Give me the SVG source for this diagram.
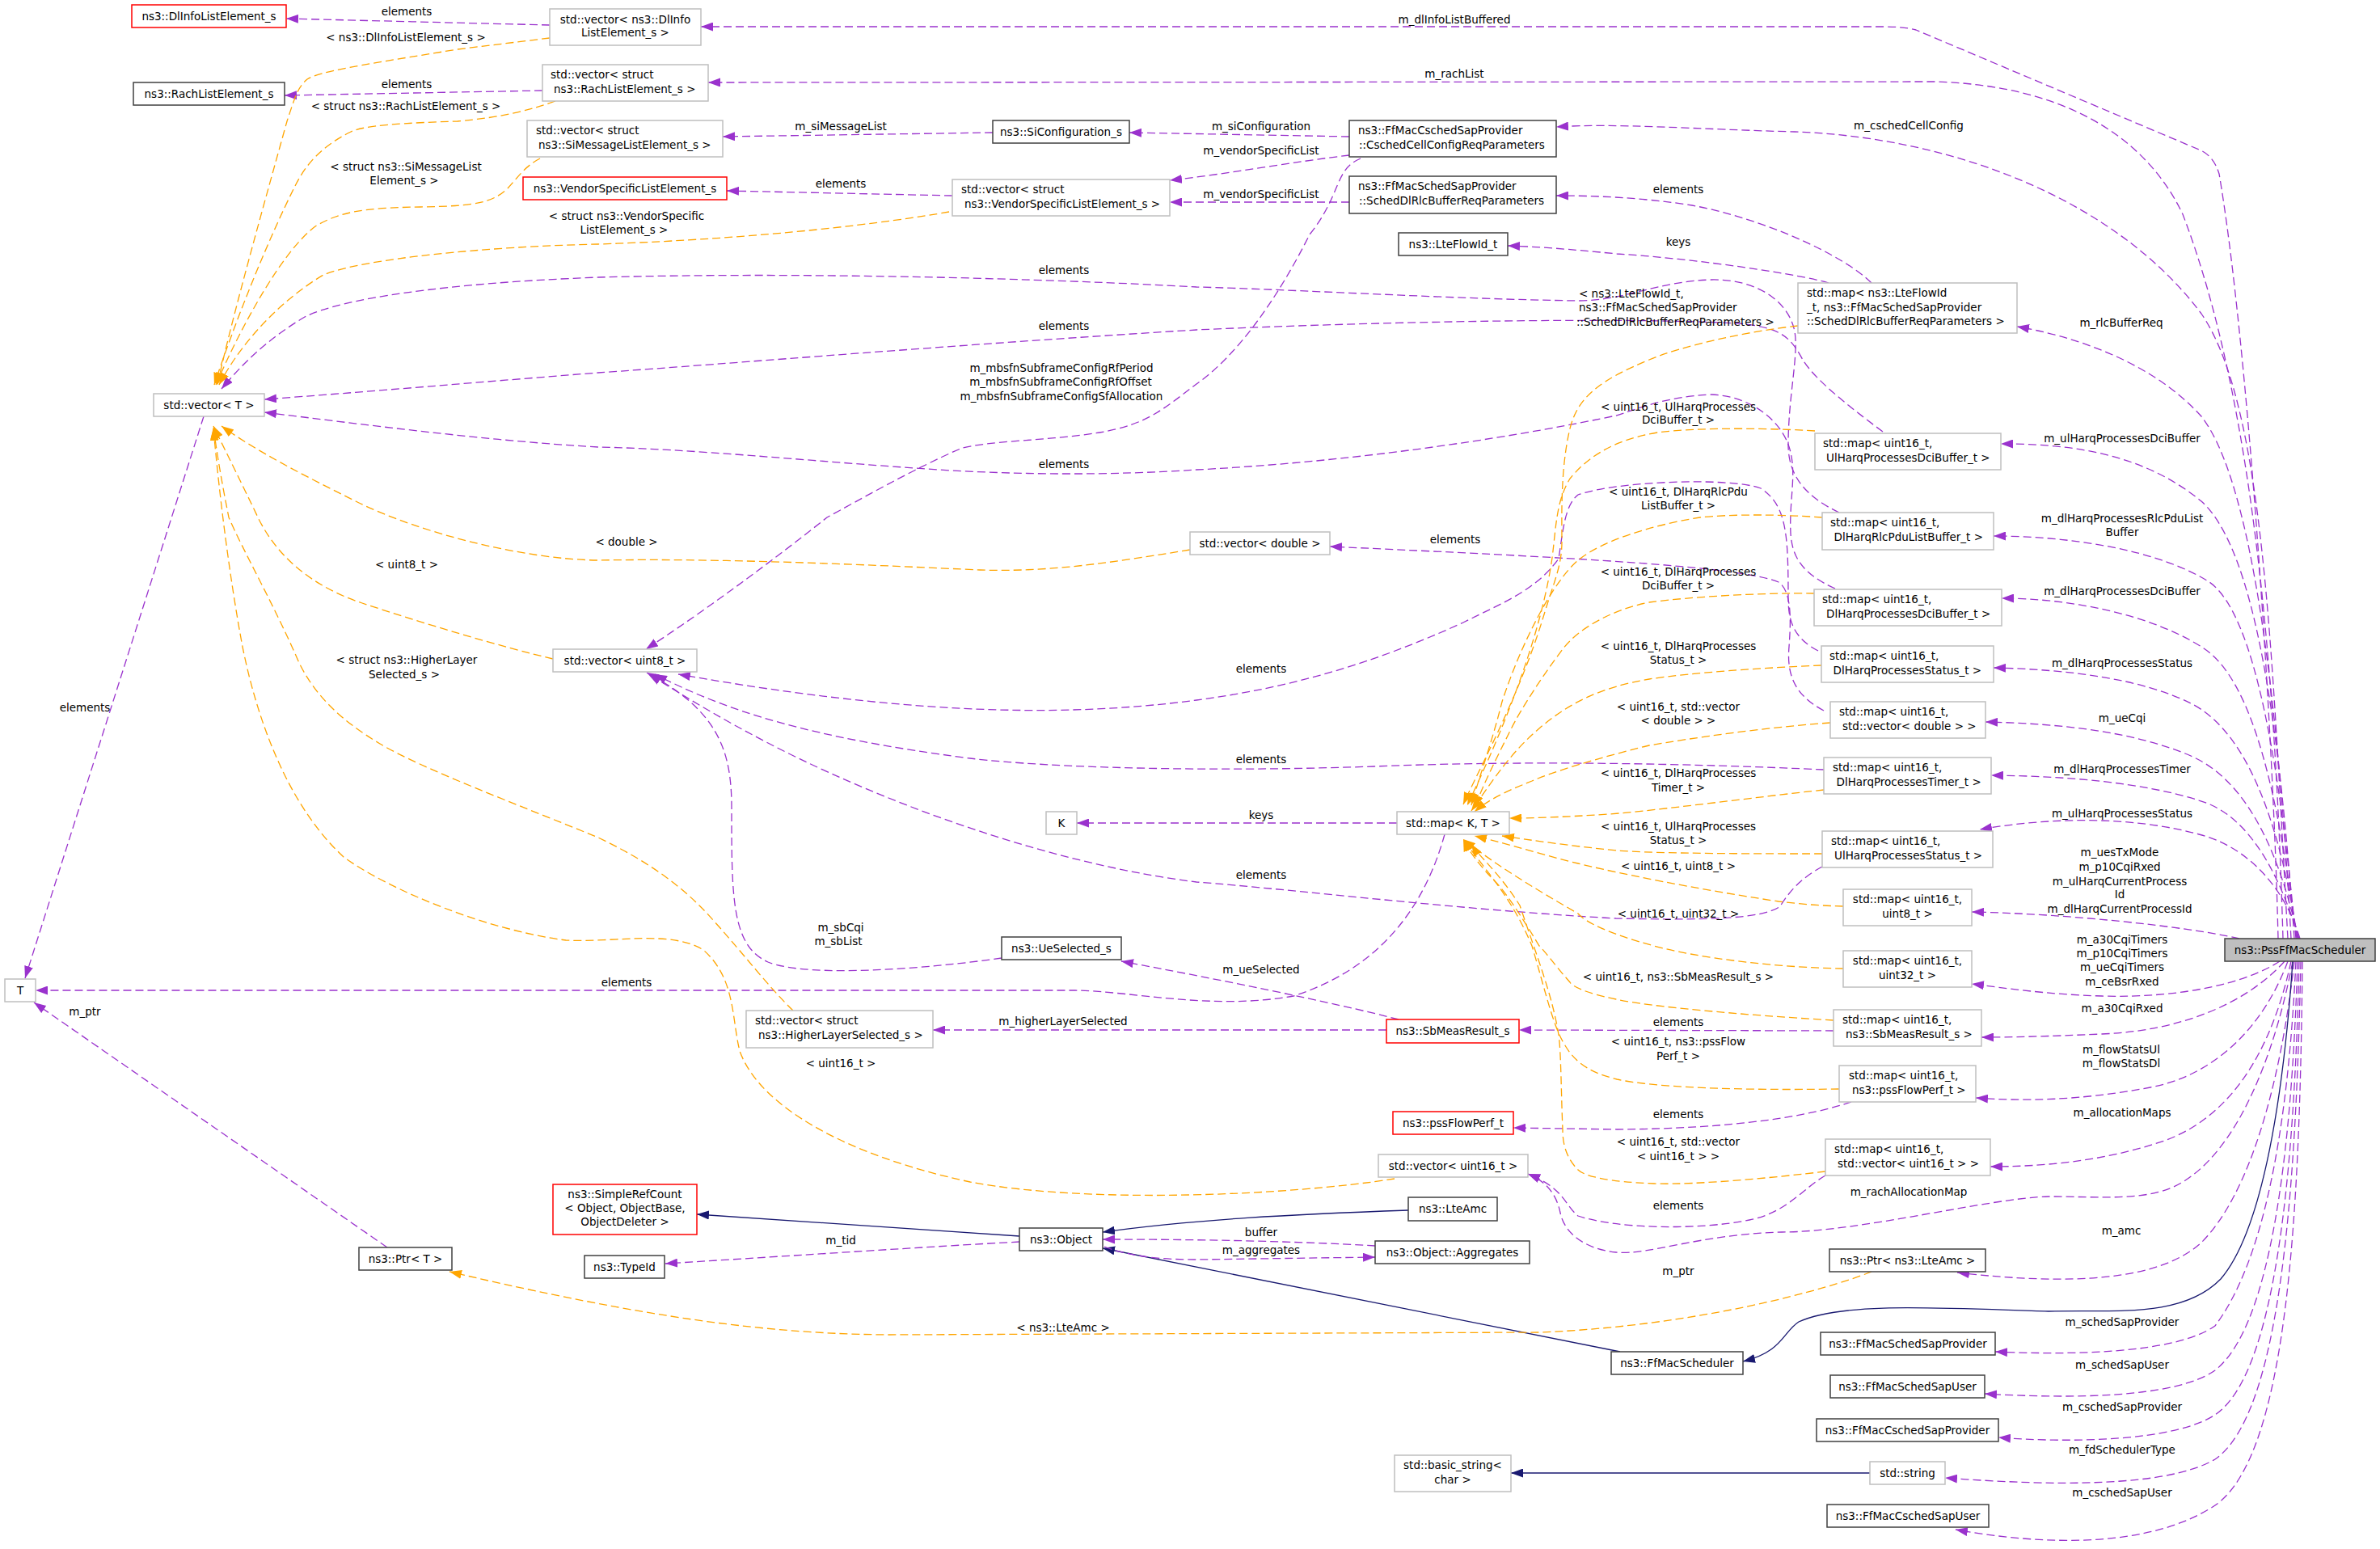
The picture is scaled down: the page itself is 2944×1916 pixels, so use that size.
<svg xmlns="http://www.w3.org/2000/svg" width="2944" height="1916" viewBox="0 0 2944 1916">
<defs>
<style>
text{font-family:'DejaVu Sans','Liberation Sans',sans-serif;font-size:13.5px;fill:#000}
.m{text-anchor:middle}
.nb rect{fill:#fff;stroke:#404040;stroke-width:1.5}
.ng rect{fill:#fff;stroke:#bfbfbf;stroke-width:1.5}
.nr rect{fill:#fff;stroke:#ff0000;stroke-width:1.5}
.np rect{fill:#bfbfbf;stroke:#404040;stroke-width:1.5}
.p{fill:none;stroke:#9a32cd;stroke-width:1.3;stroke-dasharray:10,5;marker-end:url(#ap)}
.o{fill:none;stroke:#ffa500;stroke-width:1.3;stroke-dasharray:10,5;marker-end:url(#ao)}
.s{fill:none;stroke:#191970;stroke-width:1.3;marker-end:url(#as)}
</style>
<marker id="ap" markerUnits="userSpaceOnUse" viewBox="0 0 15 11" markerWidth="15" markerHeight="11" refX="15" refY="5.5" orient="auto"><path d="M0,0 L15,5.5 L0,11 z" fill="#9a32cd"/></marker>
<marker id="ao" markerUnits="userSpaceOnUse" viewBox="0 0 15 11" markerWidth="15" markerHeight="11" refX="15" refY="5.5" orient="auto"><path d="M0,0 L15,5.5 L0,11 z" fill="#ffa500"/></marker>
<marker id="as" markerUnits="userSpaceOnUse" viewBox="0 0 15 11" markerWidth="15" markerHeight="11" refX="15" refY="5.5" orient="auto"><path d="M0,0 L15,5.5 L0,11 z" fill="#191970"/></marker>
</defs>
<rect width="2944" height="1916" fill="#fff"/>
<g id="connectors">
<path class="p" d="M2818,1161 C2812,900 2780,420 2745,215 Q2738,192 2720,185 L2370,37 Q2355,33 2330,33 L867,33"/>
<path class="p" d="M2824,1161 C2815,850 2790,500 2700,265 C2650,160 2540,105 2393,101 L876,102"/>
<path class="p" d="M2830,1161 C2810,800 2800,500 2723,388 C2620,250 2420,170 2220,163 C2100,160 2000,152 1925,157"/>
<path class="p" d="M2315,350 C2280,315 2180,270 2093,254 C2030,244 1970,242 1925,242"/>
<path class="p" d="M2262,350 C2230,340 2100,320 2000,314 C1940,308 1900,305 1865,304"/>
<path class="p" d="M2834,1161 C2820,900 2790,600 2723,515 C2660,445 2560,415 2495,404"/>
<path class="p" d="M2838,1161 C2820,900 2790,680 2723,620 C2650,560 2560,549 2475,549"/>
<path class="p" d="M2840,1161 C2820,950 2790,760 2733,720 C2670,680 2560,663 2466,663"/>
<path class="p" d="M2841,1161 C2820,1000 2790,840 2723,800 C2660,760 2560,740 2476,740"/>
<path class="p" d="M2842,1161 C2825,1050 2790,910 2710,870 C2650,840 2560,828 2466,826"/>
<path class="p" d="M2843,1161 C2825,1080 2790,970 2710,935 C2640,905 2550,895 2456,893"/>
<path class="p" d="M2844,1161 C2825,1100 2790,1010 2720,990 C2650,968 2560,960 2463,959"/>
<path class="p" d="M2845,1161 C2830,1110 2790,1050 2720,1032 C2640,1010 2540,1010 2449,1026"/>
<path class="p" d="M2770,1161 C2700,1145 2550,1130 2439,1128"/>
<path class="p" d="M2820,1189 C2780,1215 2700,1235 2600,1232 C2530,1230 2480,1222 2439,1217"/>
<path class="p" d="M2826,1189 C2780,1240 2700,1275 2600,1279 C2530,1282 2490,1283 2451,1283"/>
<path class="p" d="M2830,1189 C2800,1270 2740,1330 2660,1345 C2570,1362 2500,1362 2444,1358"/>
<path class="p" d="M2834,1189 C2810,1300 2760,1380 2680,1410 C2600,1438 2520,1443 2462,1443"/>
<path class="p" d="M2836,1189 C2815,1300 2770,1420 2700,1462 C2660,1487 2600,1480 2534,1480 C2460,1482 2300,1524 2204,1524 C2100,1527 2040,1553 1999,1549 C1960,1545 1935,1525 1930,1500 C1925,1475 1910,1460 1890,1452"/>
<path class="p" d="M2838,1189 C2820,1350 2780,1480 2723,1537 C2670,1585 2560,1590 2421,1574"/>
<path class="p" d="M2840,1189 C2830,1400 2800,1560 2740,1640 C2690,1675 2560,1676 2468,1672"/>
<path class="p" d="M2842,1189 C2835,1420 2810,1640 2740,1695 C2690,1730 2560,1730 2455,1724"/>
<path class="p" d="M2844,1189 C2838,1450 2815,1700 2740,1750 C2690,1783 2560,1785 2472,1778"/>
<path class="p" d="M2846,1189 C2840,1480 2820,1750 2740,1805 C2680,1840 2540,1838 2406,1828"/>
<path class="p" d="M2848,1189 C2845,1500 2830,1800 2740,1862 C2660,1915 2530,1912 2419,1892"/>
<path class="s" d="M2836,1189 C2825,1350 2800,1520 2747,1582 C2700,1630 2620,1620 2534,1622 C2400,1618 2280,1610 2225,1635 C2205,1648 2205,1672 2156,1684"/>
<path class="s" d="M2313,1822 L1869,1822"/>
<path class="s" d="M2004,1672 L1364,1544"/>
<path class="s" d="M1742,1497 C1600,1502 1480,1508 1364,1524"/>
<path class="s" d="M1261,1529 L862,1502"/>
<path class="p" d="M1261,1536 C1150,1542 1000,1552 823,1563"/>
<path class="p" d="M1701,1541 C1600,1535 1480,1533 1364,1533"/>
<path class="p" d="M1366,1542 C1400,1555 1440,1558 1480,1558 L1701,1555"/>
<path class="o" d="M2315,1573 C2260,1595 2100,1640 1905,1648 L1100,1651 C950,1650 800,1630 556,1573"/>
<path class="p" d="M479,1543 L42,1240"/>
<path class="p" d="M252,515 L31,1210"/>
<path class="p" d="M1787,1032 C1760,1130 1700,1200 1600,1232 C1500,1250 1400,1226 1330,1225 L44,1225"/>
<path class="p" d="M1728,1018 L1332,1018"/>
<path class="p" d="M1239,1185 C1150,1198 1000,1210 950,1190 C905,1170 905,1110 905,1000 C905,930 890,880 800,832"/>
<path class="p" d="M1730,1261 C1650,1240 1500,1210 1387,1189"/>
<path class="p" d="M1715,1274 L1154,1274"/>
<path class="p" d="M2268,1275 L1879,1274"/>
<path class="p" d="M2290,1363 C2240,1380 2150,1396 2000,1397 L1872,1395"/>
<path class="p" d="M2258,1454 C2230,1470 2210,1500 2164,1509 C2100,1522 2000,1520 1952,1504 C1935,1490 1935,1470 1890,1452"/>
<path class="p" d="M2256,879 C2220,860 2210,835 2213,800 C2216,760 2215,730 2200,720 C2150,700 1950,690 1645,676"/>
<path class="p" d="M2249,805 C2220,790 2212,770 2212,740 C2212,660 2210,625 2178,604 C2140,590 2000,595 1952,612 C1935,625 1933,660 1928,691 C1900,730 1860,745 1810,770 C1700,820 1600,850 1480,866 C1300,890 1100,880 839,834"/>
<path class="p" d="M2256,952 C2100,945 1900,940 1700,948 C1500,955 1300,950 1200,938 C1000,912 900,880 810,834"/>
<path class="p" d="M2254,1072 C2230,1085 2215,1100 2202,1121 C2180,1138 2100,1138 1999,1136 C1800,1125 1600,1100 1480,1091 C1350,1075 1200,1030 1070,975 C950,925 860,870 803,834"/>
<path class="p" d="M1683,196 C1650,210 1660,240 1620,290 C1580,370 1530,440 1480,475 C1440,505 1420,525 1360,535 C1300,545 1220,545 1188,555 C1130,580 1060,620 1023,640 C960,690 880,750 799,803"/>
<path class="p" d="M680,31 L354,23"/>
<path class="p" d="M671,112 L352,118"/>
<path class="p" d="M1228,164 L894,169"/>
<path class="p" d="M1669,169 L1397,164"/>
<path class="p" d="M1669,192 C1600,200 1520,215 1447,223"/>
<path class="p" d="M1669,250 L1447,250"/>
<path class="p" d="M1178,242 L899,236"/>
<path class="p" d="M2275,634 C2235,615 2212,590 2212,550 C2212,490 2225,440 2220,410 C2212,370 2170,345 2117,346 C2050,348 2010,372 1952,372 C1800,370 1600,358 1480,355 C1300,345 1000,336 740,343 C550,350 420,370 377,392 C330,420 300,450 274,481"/>
<path class="p" d="M2329,534 C2290,505 2245,470 2230,445 C2215,418 2205,405 2150,400 C2000,392 1700,398 1480,408 C1200,425 900,450 740,461 C600,472 450,485 327,494"/>
<path class="p" d="M2270,728 C2230,710 2217,690 2215,660 C2213,620 2222,590 2215,560 C2208,525 2170,490 2117,488 C2060,490 2020,508 1999,514 C1900,535 1700,570 1480,581 C1380,588 1250,588 1132,579 C1000,570 850,555 740,553 C600,545 450,525 327,510"/>
<path class="o" d="M680,47 L566,61 C450,80 395,88 380,98 C368,108 365,120 355,150 C330,240 285,400 269,476"/>
<path class="o" d="M687,125 C650,138 620,145 566,150 C500,152 450,155 434,163 C400,180 380,200 365,230 C330,300 290,400 265,476"/>
<path class="o" d="M668,196 C650,205 640,220 628,233 C610,250 590,255 520,256 C450,257 420,262 390,280 C350,310 300,400 267,476"/>
<path class="o" d="M1174,262 C1100,275 950,295 740,302 C600,305 450,320 400,340 C350,370 300,420 271,476"/>
<path class="o" d="M1472,680 C1380,695 1300,708 1212,705 C1100,700 900,690 740,693 C650,692 520,660 440,620 C380,590 320,560 274,527"/>
<path class="o" d="M684,815 C620,800 520,770 448,746 C400,730 350,700 321,644 C300,600 280,560 264,527"/>
<path class="o" d="M981,1250 C950,1220 920,1180 882,1138 C840,1090 790,1060 740,1036 C640,995 520,950 470,920 C420,890 390,860 370,820 C340,750 300,680 283,640 C275,600 268,560 264,528"/>
<path class="o" d="M1725,1458 C1600,1478 1350,1490 1200,1462 C1050,1430 940,1370 915,1300 C905,1260 910,1210 870,1175 C830,1150 760,1166 700,1163 C600,1150 480,1100 425,1060 C360,1000 320,900 300,800 C285,720 272,620 264,530"/>
<path class="o" d="M2224,403 C2160,410 2080,428 2040,445 C1980,470 1952,490 1942,530 C1930,580 1932,640 1932,670 C1932,700 1922,720 1910,760 C1880,860 1830,950 1810,995"/>
<path class="o" d="M2245,533 C2200,530 2100,528 2050,535 C1990,545 1960,570 1942,592 C1925,620 1925,650 1920,690 C1910,760 1880,860 1815,996"/>
<path class="o" d="M2254,640 C2200,636 2140,636 2103,640 C2040,650 1980,670 1952,693 C1920,720 1880,800 1858,868 C1845,920 1830,960 1820,996"/>
<path class="o" d="M2244,734 C2180,733 2093,738 2040,745 C1990,755 1950,780 1933,803 C1905,840 1880,880 1870,900 C1850,940 1835,970 1824,999"/>
<path class="o" d="M2253,823 C2180,826 2093,832 2040,840 C1980,850 1940,870 1904,901 C1870,930 1850,960 1820,1003"/>
<path class="o" d="M2264,894 C2180,900 2093,913 2040,922 C1975,938 1920,955 1895,966 C1860,980 1840,990 1824,1004"/>
<path class="o" d="M2256,977 C2180,985 2046,1003 1990,1007 C1930,1011 1890,1012 1867,1012"/>
<path class="o" d="M2254,1056 C2180,1056 2046,1056 2000,1052 C1940,1046 1900,1040 1858,1034"/>
<path class="o" d="M2280,1121 C2240,1120 2220,1117 2200,1115 C2100,1100 2000,1080 1952,1068 C1910,1058 1870,1045 1824,1034"/>
<path class="o" d="M2280,1198 C2200,1197 2100,1185 2046,1170 C1990,1155 1960,1140 1952,1130 C1900,1100 1850,1070 1810,1038"/>
<path class="o" d="M2268,1262 C2150,1255 2040,1245 1999,1236 C1960,1228 1945,1220 1942,1215 C1920,1190 1910,1175 1904,1170 C1880,1130 1860,1100 1848,1089 C1830,1070 1815,1050 1810,1038"/>
<path class="o" d="M2275,1347 C2150,1349 2046,1345 2000,1335 C1960,1325 1945,1310 1933,1288 C1920,1265 1910,1220 1895,1170 C1870,1110 1840,1080 1810,1038"/>
<path class="o" d="M2258,1449 C2200,1456 2100,1466 2046,1464 C1990,1462 1960,1455 1952,1447 C1935,1430 1933,1410 1933,1398 C1931,1350 1931,1300 1928,1280 C1920,1230 1900,1180 1880,1120 C1855,1080 1830,1060 1820,1044"/>
</g>
<g id="edge-labels" class="m">
<text x="503" y="19">elements</text>
<text x="502" y="51">&lt; ns3::DlInfoListElement_s &gt;</text>
<text x="503" y="109">elements</text>
<text x="502" y="136">&lt; struct ns3::RachListElement_s &gt;</text>
<text x="502" y="211">&lt; struct ns3::SiMessageList</text>
<text x="500" y="228">Element_s &gt;</text>
<text x="1040" y="161">m_siMessageList</text>
<text x="1040" y="232">elements</text>
<text x="775" y="272">&lt; struct ns3::VendorSpecific</text>
<text x="772" y="289">ListElement_s &gt;</text>
<text x="1560" y="161">m_siConfiguration</text>
<text x="1560" y="191">m_vendorSpecificList</text>
<text x="1560" y="245">m_vendorSpecificList</text>
<text x="1799" y="29">m_dlInfoListBuffered</text>
<text x="1799" y="96">m_rachList</text>
<text x="2361" y="160">m_cschedCellConfig</text>
<text x="2076" y="239">elements</text>
<text x="2076" y="304">keys</text>
<text x="1316" y="339">elements</text>
<text x="1953" y="368" style="text-anchor:start">&lt; ns3::LteFlowId_t,</text>
<text x="1953" y="385" style="text-anchor:start">ns3::FfMacSchedSapProvider</text>
<text x="1950" y="403" style="text-anchor:start">::SchedDlRlcBufferReqParameters &gt;</text>
<text x="1316" y="408">elements</text>
<text x="1313" y="460">m_mbsfnSubframeConfigRfPeriod</text>
<text x="1312" y="477">m_mbsfnSubframeConfigRfOffset</text>
<text x="1313" y="495">m_mbsfnSubframeConfigSfAllocation</text>
<text x="2624" y="404">m_rlcBufferReq</text>
<text x="2076" y="508">&lt; uint16_t, UlHarqProcesses</text>
<text x="2076" y="524">DciBuffer_t &gt;</text>
<text x="2625" y="547">m_ulHarqProcessesDciBuffer</text>
<text x="1316" y="579">elements</text>
<text x="2076" y="613">&lt; uint16_t, DlHarqRlcPdu</text>
<text x="2076" y="630">ListBuffer_t &gt;</text>
<text x="2625" y="646">m_dlHarqProcessesRlcPduList</text>
<text x="2625" y="663">Buffer</text>
<text x="775" y="675">&lt; double &gt;</text>
<text x="1800" y="672">elements</text>
<text x="503" y="703">&lt; uint8_t &gt;</text>
<text x="2076" y="712">&lt; uint16_t, DlHarqProcesses</text>
<text x="2076" y="729">DciBuffer_t &gt;</text>
<text x="2625" y="736">m_dlHarqProcessesDciBuffer</text>
<text x="2076" y="804">&lt; uint16_t, DlHarqProcesses</text>
<text x="2076" y="821">Status_t &gt;</text>
<text x="2625" y="825">m_dlHarqProcessesStatus</text>
<text x="1560" y="832">elements</text>
<text x="503" y="821">&lt; struct ns3::HigherLayer</text>
<text x="500" y="839">Selected_s &gt;</text>
<text x="105" y="880">elements</text>
<text x="2076" y="879">&lt; uint16_t, std::vector</text>
<text x="2076" y="896">&lt; double &gt; &gt;</text>
<text x="2625" y="893">m_ueCqi</text>
<text x="1560" y="944">elements</text>
<text x="2076" y="961">&lt; uint16_t, DlHarqProcesses</text>
<text x="2076" y="979">Timer_t &gt;</text>
<text x="2625" y="956">m_dlHarqProcessesTimer</text>
<text x="2625" y="1011">m_ulHarqProcessesStatus</text>
<text x="1560" y="1013">keys</text>
<text x="2076" y="1027">&lt; uint16_t, UlHarqProcesses</text>
<text x="2076" y="1044">Status_t &gt;</text>
<text x="2622" y="1059">m_uesTxMode</text>
<text x="2622" y="1077">m_p10CqiRxed</text>
<text x="2622" y="1095">m_ulHarqCurrentProcess</text>
<text x="2622" y="1111">Id</text>
<text x="2622" y="1129">m_dlHarqCurrentProcessId</text>
<text x="2076" y="1076">&lt; uint16_t, uint8_t &gt;</text>
<text x="1560" y="1087">elements</text>
<text x="2076" y="1135">&lt; uint16_t, uint32_t &gt;</text>
<text x="1040" y="1152">m_sbCqi</text>
<text x="1037" y="1169">m_sbList</text>
<text x="2625" y="1167">m_a30CqiTimers</text>
<text x="2625" y="1184">m_p10CqiTimers</text>
<text x="2625" y="1201">m_ueCqiTimers</text>
<text x="2625" y="1219">m_ceBsrRxed</text>
<text x="1560" y="1204">m_ueSelected</text>
<text x="2076" y="1213">&lt; uint16_t, ns3::SbMeasResult_s &gt;</text>
<text x="775" y="1220">elements</text>
<text x="2625" y="1252">m_a30CqiRxed</text>
<text x="105" y="1256">m_ptr</text>
<text x="1315" y="1268">m_higherLayerSelected</text>
<text x="2076" y="1269">elements</text>
<text x="2076" y="1293">&lt; uint16_t, ns3::pssFlow</text>
<text x="2076" y="1311">Perf_t &gt;</text>
<text x="2624" y="1303">m_flowStatsUl</text>
<text x="2624" y="1320">m_flowStatsDl</text>
<text x="1040" y="1320">&lt; uint16_t &gt;</text>
<text x="2625" y="1381">m_allocationMaps</text>
<text x="2076" y="1383">elements</text>
<text x="2076" y="1417">&lt; uint16_t, std::vector</text>
<text x="2076" y="1435">&lt; uint16_t &gt; &gt;</text>
<text x="2361" y="1479">m_rachAllocationMap</text>
<text x="2076" y="1496">elements</text>
<text x="2624" y="1527">m_amc</text>
<text x="1560" y="1529">buffer</text>
<text x="1040" y="1539">m_tid</text>
<text x="1560" y="1551">m_aggregates</text>
<text x="2076" y="1577">m_ptr</text>
<text x="2625" y="1640">m_schedSapProvider</text>
<text x="1315" y="1647">&lt; ns3::LteAmc &gt;</text>
<text x="2625" y="1693">m_schedSapUser</text>
<text x="2625" y="1745">m_cschedSapProvider</text>
<text x="2625" y="1798">m_fdSchedulerType</text>
<text x="2625" y="1851">m_cschedSapUser</text>
</g>
<g id="n_dlinfo" class="nr"><rect x="163" y="6" width="191" height="28"/><text class="m" x="258.5" y="25">ns3::DlInfoListElement_s</text></g>
<g id="n_rach" class="nb"><rect x="165" y="102" width="187" height="28"/><text class="m" x="258.5" y="121">ns3::RachListElement_s</text></g>
<g id="n_vecT" class="ng"><rect x="190" y="487" width="137" height="28"/><text class="m" x="258.5" y="506">std::vector&lt; T &gt;</text></g>
<g id="n_vecDlInfo" class="ng"><rect x="680" y="11" width="187" height="45"/><text class="m" x="773.5" y="28.5">std::vector&lt; ns3::DlInfo</text><text class="m" x="773.5" y="45">ListElement_s &gt;</text></g>
<g id="n_vecRach" class="ng"><rect x="671" y="80" width="205" height="45"/><text x="681" y="97">std::vector&lt; struct</text><text x="685" y="115">ns3::RachListElement_s &gt;</text></g>
<g id="n_vecSi" class="ng"><rect x="652" y="149" width="242" height="45"/><text x="663" y="166">std::vector&lt; struct</text><text x="666" y="184">ns3::SiMessageListElement_s &gt;</text></g>
<g id="n_vendor" class="nr"><rect x="647" y="219" width="252" height="28"/><text class="m" x="773" y="238">ns3::VendorSpecificListElement_s</text></g>
<g id="n_siconf" class="nb"><rect x="1228" y="149" width="169" height="28"/><text class="m" x="1312.5" y="168">ns3::SiConfiguration_s</text></g>
<g id="n_vecVendor" class="ng"><rect x="1178" y="222" width="269" height="45"/><text x="1189" y="239">std::vector&lt; struct</text><text x="1193" y="257">ns3::VendorSpecificListElement_s &gt;</text></g>
<g id="n_csched" class="nb"><rect x="1669" y="149" width="256" height="45"/><text x="1680" y="166">ns3::FfMacCschedSapProvider</text><text x="1681" y="184">::CschedCellConfigReqParameters</text></g>
<g id="n_schedrlc" class="nb"><rect x="1669" y="218" width="256" height="46"/><text x="1680" y="235">ns3::FfMacSchedSapProvider</text><text x="1681" y="253">::SchedDlRlcBufferReqParameters</text></g>
<g id="n_flowid" class="nb"><rect x="1730" y="288" width="135" height="28"/><text class="m" x="1797.5" y="307">ns3::LteFlowId_t</text></g>
<g id="n_mapflow" class="ng"><rect x="2224" y="350" width="271" height="62"/><text x="2235" y="367">std::map&lt; ns3::LteFlowId</text><text x="2235" y="385">_t, ns3::FfMacSchedSapProvider</text><text x="2235" y="402">::SchedDlRlcBufferReqParameters &gt;</text></g>
<g id="n_mapUlDci" class="ng"><rect x="2245" y="536" width="230" height="45"/><text x="2255" y="553">std::map&lt; uint16_t,</text><text x="2259" y="571">UlHarqProcessesDciBuffer_t &gt;</text></g>
<g id="n_mapRlc" class="ng"><rect x="2254" y="634" width="212" height="46"/><text x="2264" y="651">std::map&lt; uint16_t,</text><text x="2268.5" y="669">DlHarqRlcPduListBuffer_t &gt;</text></g>
<g id="n_mapDlDci" class="ng"><rect x="2244" y="729" width="232" height="45"/><text x="2254" y="746">std::map&lt; uint16_t,</text><text x="2259" y="764">DlHarqProcessesDciBuffer_t &gt;</text></g>
<g id="n_mapDlStatus" class="ng"><rect x="2253" y="799" width="213" height="45"/><text x="2263" y="816">std::map&lt; uint16_t,</text><text x="2267.5" y="834">DlHarqProcessesStatus_t &gt;</text></g>
<g id="n_mapVecD" class="ng"><rect x="2264" y="868" width="192" height="45"/><text x="2275" y="885">std::map&lt; uint16_t,</text><text x="2279" y="903">std::vector&lt; double &gt; &gt;</text></g>
<g id="n_mapDlTimer" class="ng"><rect x="2256" y="937" width="207" height="45"/><text x="2267" y="954">std::map&lt; uint16_t,</text><text x="2271.5" y="972">DlHarqProcessesTimer_t &gt;</text></g>
<g id="n_mapUlStatus" class="ng"><rect x="2254" y="1028" width="211" height="45"/><text x="2265" y="1045">std::map&lt; uint16_t,</text><text x="2269" y="1063">UlHarqProcessesStatus_t &gt;</text></g>
<g id="n_mapU8" class="ng"><rect x="2280" y="1100" width="159" height="45"/><text class="m" x="2359.5" y="1117">std::map&lt; uint16_t,</text><text class="m" x="2359.5" y="1135">uint8_t &gt;</text></g>
<g id="n_mapU32" class="ng"><rect x="2280" y="1176" width="159" height="45"/><text class="m" x="2359.5" y="1193">std::map&lt; uint16_t,</text><text class="m" x="2359.5" y="1211">uint32_t &gt;</text></g>
<g id="n_mapSb" class="ng"><rect x="2268" y="1249" width="183" height="45"/><text x="2279" y="1266">std::map&lt; uint16_t,</text><text x="2283" y="1284">ns3::SbMeasResult_s &gt;</text></g>
<g id="n_mapPss" class="ng"><rect x="2275" y="1318" width="169" height="45"/><text x="2287" y="1335">std::map&lt; uint16_t,</text><text x="2291" y="1353">ns3::pssFlowPerf_t &gt;</text></g>
<g id="n_mapVec16" class="ng"><rect x="2258" y="1409" width="204" height="45"/><text x="2269" y="1426">std::map&lt; uint16_t,</text><text x="2273" y="1444">std::vector&lt; uint16_t &gt; &gt;</text></g>
<g id="n_ptrAmc" class="nb"><rect x="2263" y="1545" width="193" height="28"/><text class="m" x="2359.5" y="1564">ns3::Ptr&lt; ns3::LteAmc &gt;</text></g>
<g id="n_sapProv" class="nb"><rect x="2252" y="1648" width="216" height="28"/><text class="m" x="2360" y="1667">ns3::FfMacSchedSapProvider</text></g>
<g id="n_sapUser" class="nb"><rect x="2264" y="1701" width="191" height="28"/><text class="m" x="2359.5" y="1720">ns3::FfMacSchedSapUser</text></g>
<g id="n_csapProv" class="nb"><rect x="2247" y="1755" width="225" height="28"/><text class="m" x="2359.5" y="1774">ns3::FfMacCschedSapProvider</text></g>
<g id="n_string" class="ng"><rect x="2313" y="1808" width="93" height="28"/><text class="m" x="2359.5" y="1827">std::string</text></g>
<g id="n_csapUser" class="nb"><rect x="2260" y="1861" width="200" height="28"/><text class="m" x="2360" y="1880">ns3::FfMacCschedSapUser</text></g>
<g id="n_pss" class="np"><rect x="2752" y="1161" width="186" height="28"/><text class="m" x="2845" y="1180">ns3::PssFfMacScheduler</text></g>
<g id="n_sbmeas" class="nr"><rect x="1715" y="1261" width="164" height="29"/><text class="m" x="1797" y="1280">ns3::SbMeasResult_s</text></g>
<g id="n_pssflow" class="nr"><rect x="1723" y="1375" width="149" height="28"/><text class="m" x="1797.5" y="1394">ns3::pssFlowPerf_t</text></g>
<g id="n_vec16" class="ng"><rect x="1705" y="1428" width="185" height="28"/><text class="m" x="1797.5" y="1447">std::vector&lt; uint16_t &gt;</text></g>
<g id="n_lteamc" class="nb"><rect x="1742" y="1481" width="110" height="29"/><text class="m" x="1797" y="1500">ns3::LteAmc</text></g>
<g id="n_aggr" class="nb"><rect x="1701" y="1535" width="191" height="28"/><text class="m" x="1796.5" y="1554">ns3::Object::Aggregates</text></g>
<g id="n_ffsched" class="nb"><rect x="1993" y="1672" width="163" height="28"/><text class="m" x="2074.5" y="1691">ns3::FfMacScheduler</text></g>
<g id="n_bstring" class="ng"><rect x="1725" y="1800" width="144" height="45"/><text class="m" x="1797" y="1817">std::basic_string&lt;</text><text class="m" x="1797" y="1835">char &gt;</text></g>
<g id="n_src" class="nr"><rect x="684" y="1465" width="178" height="62"/><text class="m" x="773" y="1482">ns3::SimpleRefCount</text><text class="m" x="773" y="1499">&lt; Object, ObjectBase,</text><text class="m" x="773" y="1516">ObjectDeleter &gt;</text></g>
<g id="n_typeid" class="nb"><rect x="723" y="1553" width="99" height="28"/><text class="m" x="772.5" y="1572">ns3::TypeId</text></g>
<g id="n_object" class="nb"><rect x="1261" y="1519" width="103" height="28"/><text class="m" x="1312.5" y="1538">ns3::Object</text></g>
<g id="n_vecHL" class="ng"><rect x="923" y="1250" width="231" height="46"/><text x="934" y="1267">std::vector&lt; struct</text><text x="938" y="1285">ns3::HigherLayerSelected_s &gt;</text></g>
<g id="n_ptrT" class="nb"><rect x="444" y="1543" width="115" height="28"/><text class="m" x="501.5" y="1562">ns3::Ptr&lt; T &gt;</text></g>
<g id="n_T" class="ng"><rect x="6" y="1211" width="38" height="28"/><text class="m" x="25" y="1230">T</text></g>
<g id="n_vecU8" class="ng"><rect x="684" y="803" width="178" height="28"/><text class="m" x="773" y="822">std::vector&lt; uint8_t &gt;</text></g>
<g id="n_K" class="ng"><rect x="1294" y="1004" width="38" height="28"/><text class="m" x="1313" y="1023">K</text></g>
<g id="n_ueSel" class="nb"><rect x="1239" y="1159" width="148" height="28"/><text class="m" x="1313" y="1178">ns3::UeSelected_s</text></g>
<g id="n_vecD" class="ng"><rect x="1472" y="658" width="173" height="28"/><text class="m" x="1558.5" y="677">std::vector&lt; double &gt;</text></g>
<g id="n_mapKT" class="ng"><rect x="1728" y="1004" width="139" height="28"/><text class="m" x="1797.5" y="1023">std::map&lt; K, T &gt;</text></g>
</svg>
